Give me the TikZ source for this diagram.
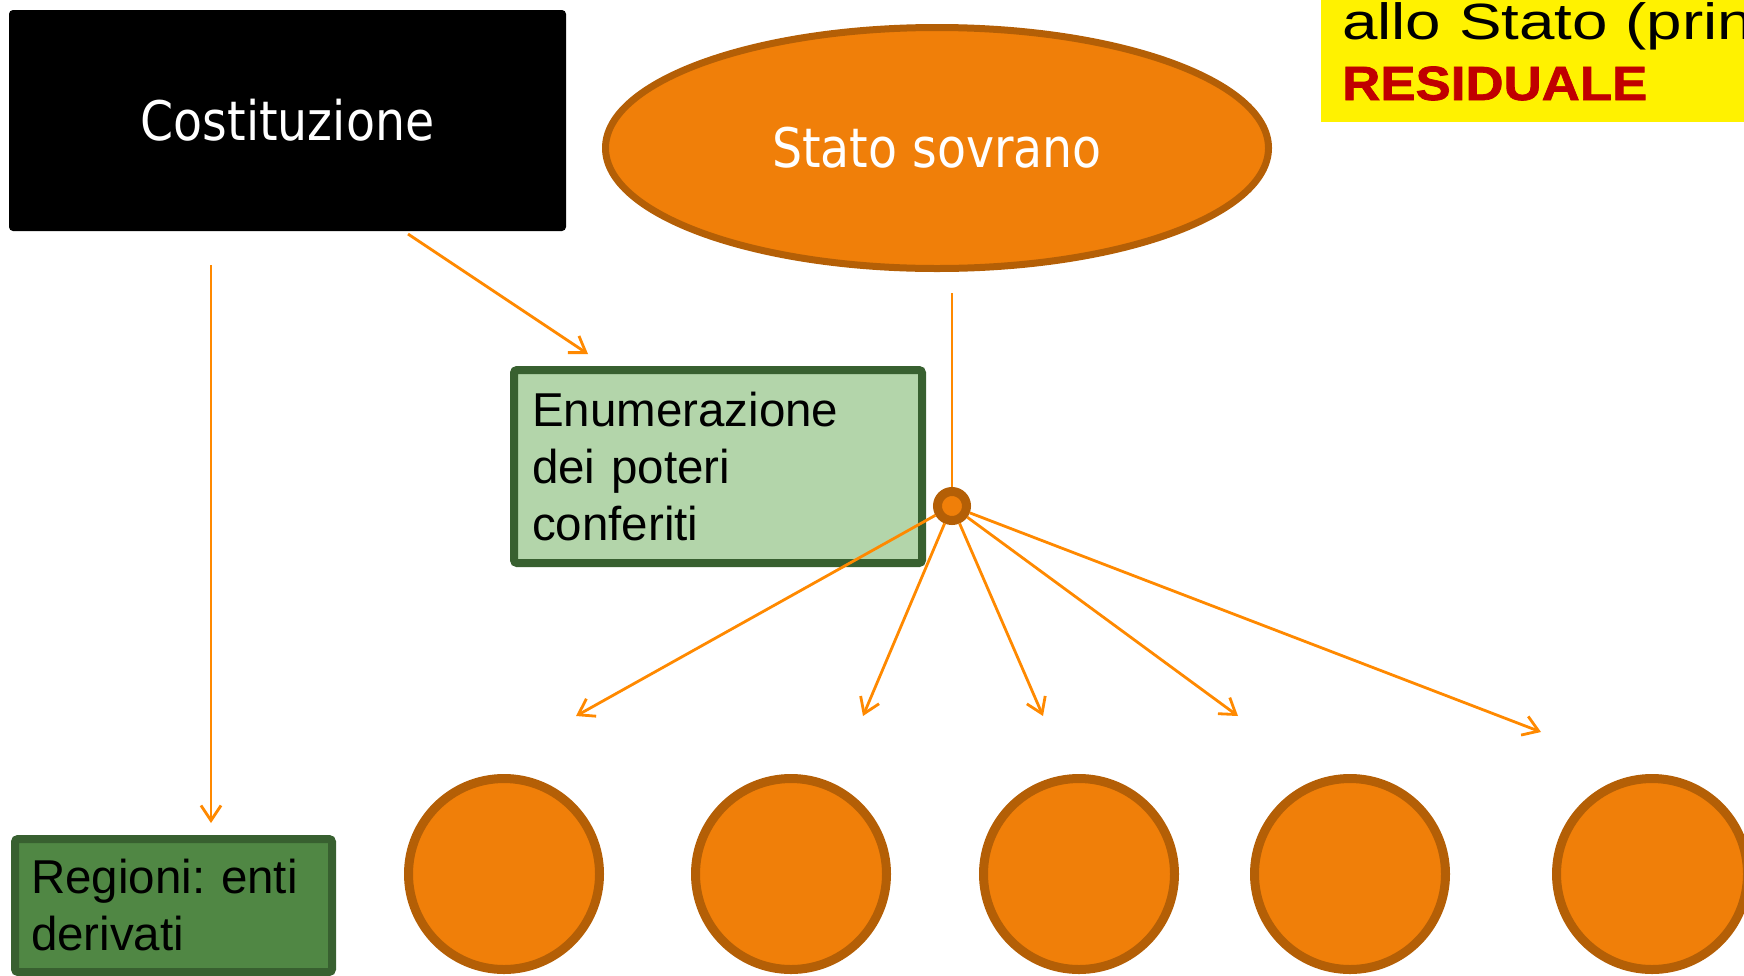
\documentclass[tikz,border=0pt]{standalone}
\usepackage{fontspec}
\setmainfont{Liberation Sans}
\newfontfamily\verdfont[FakeStretch=0.87]{DejaVu Sans}
\newfontfamily\notefont[FakeStretch=1.25]{Liberation Sans}
\newfontfamily\resfont[FakeStretch=1.1,BoldFeatures={FakeBold=1.5}]{Liberation Sans}
\usetikzlibrary{shapes.geometric,arrows.meta}
\frenchspacing

\definecolor{arancio}{RGB}{240,127,9}
\definecolor{bruno}{RGB}{180,95,6}
\definecolor{freccia}{RGB}{255,137,0}
\definecolor{verdechiaro}{RGB}{179,213,170}
\definecolor{verdescuro}{RGB}{56,96,48}
\definecolor{verde}{RGB}{80,135,68}
\definecolor{rosso}{RGB}{192,0,0}

\begin{document}
\begin{tikzpicture}[x=1pt,y=1pt,yscale=-1,xscale=1,
  conn/.style={draw=freccia,line width=2.8pt},
  arr/.style={conn,-{Straight Barb[length=15pt,width=20pt]}},
  ente/.style={circle,draw=bruno,fill=arancio,line width=9pt,minimum size=191pt,inner sep=0pt},
  box/.style={rectangle,rounded corners=3pt,draw=verdescuro,line width=8pt,align=left,inner ysep=0pt,font=\fontsize{47.5}{57}\selectfont,text=black}]
\useasboundingbox (0,0) rectangle (1744,975);

%Shape: Rectangle
\node[rectangle,fill=black,rounded corners=4pt,minimum width=557pt,minimum height=221pt,inner sep=0pt,text=white,font=\verdfont\fontsize{54.5}{64}\selectfont] (cost) at (287.5,120.5) {Costituzione};
%Shape: Ellipse
\node[ellipse,draw=bruno,fill=arancio,line width=7pt,minimum width=663pt,minimum height=241pt,inner sep=0pt,text=white,font=\verdfont\fontsize{54.5}{64}\selectfont] (stato) at (937,148) {Stato sovrano};
%Shape: Rectangle
\node[rectangle,fill=yellow,minimum width=440pt,minimum height=140pt,inner sep=0pt,anchor=south west] (nota) at (1321,122) {};
% Text Node
\node[anchor=base west,inner sep=0pt,font=\notefont\fontsize{51}{60}\selectfont] (notaA) at (1342,39) {allo Stato (prin};
% Text Node
\node[anchor=base west,inner sep=0pt,text=rosso,font=\resfont\bfseries\fontsize{48}{58}\selectfont] (notaB) at (1342,100) {RESIDUALE};

%Shape: Rectangle
\node[box,fill=verdechiaro,minimum width=408pt,minimum height=193pt,text width=372pt,inner xsep=18pt] (enum) at (718,466.5) {Enumerazione\\dei poteri\\conferiti};
%Shape: Rectangle
\node[box,fill=verde,minimum width=317pt,minimum height=133pt,text width=285pt,inner xsep=16pt] (reg) at (173.5,905.5) {Regioni: enti\\derivati};

%Shape: Circle
\node[circle,draw=bruno,fill=arancio,line width=9pt,minimum size=29pt,inner sep=0pt] (hub) at (952,506) {};
\foreach \n/\x in {1/504,2/791,3/1079,4/1350,5/1652}
  \node[ente] (ente\n) at (\x,874) {};

\coordinate (costA) at (211,265);
\coordinate (regA) at (211,823);
\coordinate (costB) at (408,234);
\coordinate (enumB) at (588,354);
\coordinate (statoA) at (952,293);
\foreach \n/\x/\y in {1/576/716,2/863/716,3/1043/716,4/1238/716,5/1541/732}
  \coordinate (punta\n) at (\x,\y);

%Straight Lines
\draw[arr] (costA) -- (regA);
\draw[arr] (costB) -- (enumB);
\draw[conn] (statoA) -- (hub);
\foreach \n in {1,...,5}
  \draw[arr] (hub) -- (punta\n);

\end{tikzpicture}
\end{document}
